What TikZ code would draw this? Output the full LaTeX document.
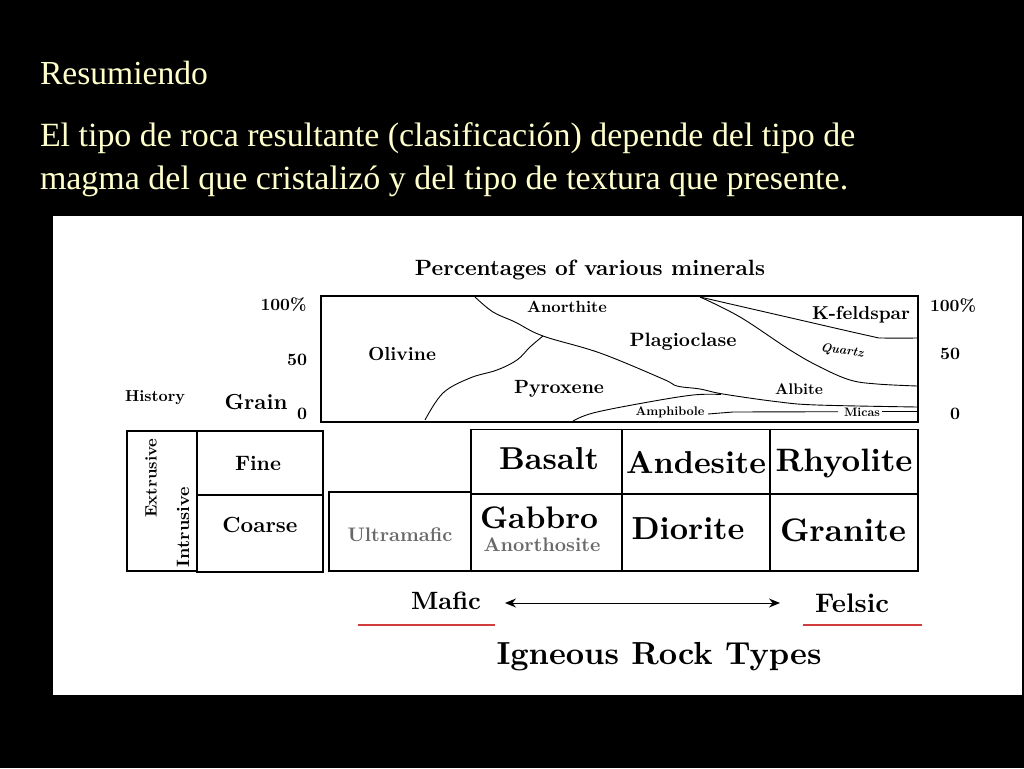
\documentclass[tikz,border=0pt]{standalone}
\usepackage{fontspec}
\usepackage{graphicx}
\usetikzlibrary{arrows.meta}
\newfontfamily\timesf{Liberation Serif}
\definecolor{cream}{RGB}{255,255,204}
\definecolor{redline}{RGB}{210,60,60}
\definecolor{hollow}{RGB}{105,105,105}
\newcommand\fw[2]{\resizebox{#1pt}{!}{\bfseries #2}}
\newcommand\tw[2]{\resizebox{#1pt}{!}{\timesf #2}}
\tikzset{
  lbl/.style={inner sep=0pt, outer sep=0pt},
  toptext/.style={inner sep=0pt, outer sep=0pt, text=cream, anchor=base west},
  box/.style={draw=black, line width=1.4pt},
  curve/.style={line width=0.9pt, line join=round},
  redbar/.style={draw=redline, line width=1.8pt},
  hollowtxt/.style={inner sep=0pt, text=hollow}
}
\begin{document}
\begin{tikzpicture}[x=1pt,y=-1pt]
\fill[black] (0,0) rectangle (1024,768);
\useasboundingbox (0,0) rectangle (1024,768);
\fill[white] (53,216) rectangle (1022,695);

% top text
\node[toptext] (t1) at (40,84) {\tw{168}{Resumiendo}};
\node[toptext] (t2) at (40,146) {\tw{815}{El tipo de roca resultante (clasificación) depende del tipo de}};
\node[toptext] (t3) at (40,189) {\tw{808}{magma del que cristalizó y del tipo de textura que presente.}};

% chart
\node[lbl] (ptitle) at (590,270) {\fw{350}{Percentages of various minerals}};
\draw[box, line width=1.2pt] (321,296) rectangle (918,422);
\node[lbl] (l100) at (283.5,305) {\fw{46}{100\%}};
\node[lbl] (l50) at (297,360) {\fw{20}{50}};
\node[lbl] (l0) at (302,414) {\fw{10}{0}};
\node[lbl] (r100) at (953,306) {\fw{46}{100\%}};
\node[lbl] (r50) at (950,354) {\fw{20}{50}};
\node[lbl] (r0) at (955,414) {\fw{10}{0}};
\node[lbl] (hist) at (155,398) {\fw{60}{History}};
\node[lbl] (grain) at (256,402) {\fw{63}{Grain}};

\draw[curve] plot[smooth, tension=0.6] coordinates {(425,420) (443,393) (470,378) (497,370) (517,360) (530,347) (543,336)};
\draw[curve] plot[smooth, tension=0.6] coordinates {(475,297) (493,312) (515,322) (543,336) (600,353) (663,379) (677,386) (700,389) (723,394) (777,401.7) (817,405) (917,407)};
\draw[curve] plot[smooth, tension=0.6] coordinates {(573,421) (593,413) (643,403) (693,395) (721,394.5)};
\draw[curve] (708,414) -- (733,412) -- (838,411.7);
\draw[curve] (882,411.7) -- (917,411.7);
\draw[curve] plot[smooth, tension=0.6] coordinates {(700,297) (740,317) (790,350) (820,367) (850,380) (877,384) (917,386)};
\draw[curve] plot[smooth, tension=0.6] coordinates {(700,297) (800,320) (870,336) (883,338) (917,338)};

\node[lbl] (oliv) at (402,354) {\fw{68}{Olivine}};
\node[lbl] (anor) at (567,307) {\fw{80}{Anorthite}};
\node[lbl] (plag) at (683,342) {\fw{107}{Plagioclase}};
\node[lbl] (pyro) at (559,389) {\fw{90}{Pyroxene}};
\node[lbl] (kfel) at (861,315) {\fw{98}{K-feldspar}};
\node[lbl, rotate=-8] (quar) at (842,351) {\fw{43}{\itshape Quartz}};
\node[lbl] (albi) at (799,389) {\fw{48}{Albite}};
\node[lbl] (amph) at (670,412) {\fw{69}{Amphibole}};
\node[lbl] (mica) at (862,412) {\fw{36}{Micas}};

% table
\draw[box] (127,431) rectangle (197,571);
\draw[box] (197,431) rectangle (323,572);
\draw[box] (197,495) -- (323,495);
\draw[box] (329,492) rectangle (471,571);
\draw[box] (471,429.5) rectangle (918,571);
\draw[box] (471,494) -- (918,494);
\draw[box] (622,429.5) -- (622,571);
\draw[box] (770,429.5) -- (770,571);

\node[lbl, rotate=90] (extr) at (151,478) {\fw{79}{Extrusive}};
\node[lbl, rotate=90] (intr) at (183,527) {\fw{80}{Intrusive}};
\node[lbl] (fine) at (258,463) {\fw{46}{Fine}};
\node[lbl] (coar) at (260,525) {\fw{75}{Coarse}};
\node[hollowtxt] (ultr) at (400,535) {\fw{105}{Ultramafic}};
\node[lbl] (basa) at (549,459) {\fw{100}{Basalt}};
\node[lbl] (ande) at (696,462.5) {\fw{140}{Andesite}};
\node[lbl] (rhyo) at (844,463) {\fw{137}{Rhyolite}};
\node[lbl] (gabb) at (539,518) {\fw{118}{Gabbro}};
\node[hollowtxt] (anos) at (542,545) {\fw{117}{Anorthosite}};
\node[lbl] (dior) at (688,529) {\fw{113}{Diorite}};
\node[lbl] (gran) at (843,530) {\fw{126}{Granite}};

% bottom
\node[lbl] (mafic) at (446,601) {\fw{70}{Mafic}};
\node[lbl] (felsic) at (852,603) {\fw{74}{Felsic}};
\coordinate (arrL) at (505,603);
\coordinate (arrR) at (780,603);
\draw[{Stealth[length=11pt,width=9pt]}-{Stealth[length=11pt,width=9pt]}, line width=1pt] (arrL) -- (arrR);
\draw[redbar] (358,625) -- (495,625);
\draw[redbar] (803,625) -- (922,625);
\node[lbl] (igne) at (659,657) {\fw{325}{Igneous Rock Types}};
\end{tikzpicture}
\end{document}
